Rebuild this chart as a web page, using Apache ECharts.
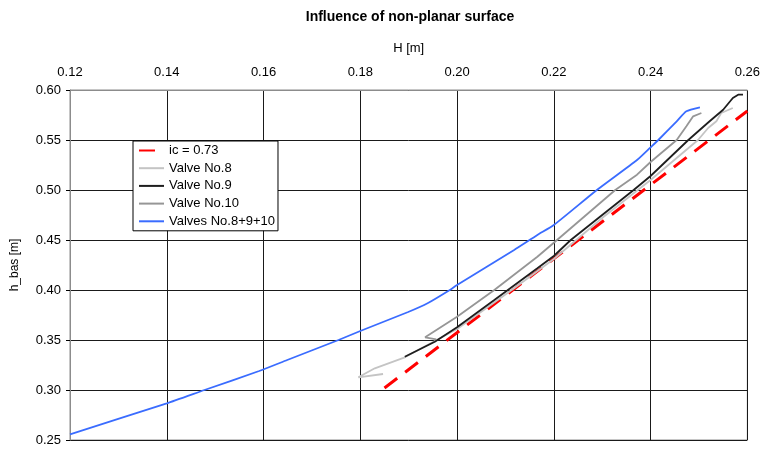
<!DOCTYPE html>
<html>
<head>
<meta charset="utf-8">
<script src="https://cdn.jsdelivr.net/npm/echarts@6/dist/echarts.min.js"></script>
<style>
  html, body { margin: 0; padding: 0; background: #fff; }
  #chart { width: 763px; height: 450px; }
</style>
</head>
<body>
<div id="chart"></div>
<script>
// Measured h_bas against H, in metres, as [H, h_bas] pairs
const seriesNames = ['ic = 0.73', 'Valve No.8', 'Valve No.9', 'Valve No.10', 'Valves No.8+9+10'];

const icLine = [[0.185, 0.302], [0.260, 0.579]];

const valve8 = [
  [0.1847, 0.3160], [0.1796, 0.3127], [0.1830, 0.3217], [0.1892, 0.3327],
  [0.2000, 0.3610], [0.2118, 0.4017], [0.2200, 0.4310], [0.2303, 0.4733],
  [0.2400, 0.5100], [0.2498, 0.5500], [0.2519, 0.5620], [0.2536, 0.5687],
  [0.2546, 0.5770], [0.2570, 0.5820]
];

const valve9 = [
  [0.1892, 0.3333], [0.1954, 0.3483], [0.2000, 0.3627], [0.2077, 0.3900],
  [0.2166, 0.4217], [0.2200, 0.4340], [0.2235, 0.4500], [0.2365, 0.5000],
  [0.2400, 0.5140], [0.2478, 0.5500], [0.2522, 0.5687], [0.2550, 0.5803],
  [0.2570, 0.5920], [0.2581, 0.5953], [0.2591, 0.5953]
];

const valve10 = [
  [0.1957, 0.3507], [0.1934, 0.3527], [0.2000, 0.3733], [0.2077, 0.4000],
  [0.2166, 0.4333], [0.2200, 0.4473], [0.2327, 0.5000], [0.2372, 0.5153],
  [0.2400, 0.5280], [0.2454, 0.5500], [0.2474, 0.5637], [0.2488, 0.5737],
  [0.2505, 0.5770]
];

const valvesAll = [
  [0.1200, 0.2557], [0.1400, 0.2867], [0.1478, 0.3000], [0.1591, 0.3190],
  [0.1649, 0.3300], [0.1755, 0.3500], [0.1800, 0.3590], [0.1899, 0.3780],
  [0.1940, 0.3870], [0.1985, 0.4000], [0.2000, 0.4050], [0.2118, 0.4400],
  [0.2166, 0.4550], [0.2200, 0.4650], [0.2289, 0.5000], [0.2372, 0.5300],
  [0.2400, 0.5427], [0.2416, 0.5500], [0.2454, 0.5687], [0.2474, 0.5787],
  [0.2502, 0.5827]
];

const seriesData = [icLine, valve8, valve9, valve10, valvesAll];
const seriesColors = ['#ff0000', '#c4c4c4', '#1e1e1e', '#969696', '#3a6cff'];
const seriesSmooth = [false, false, false, false, 0.2];

const FONT = 'Liberation Sans, Arial, sans-serif';

const chart = echarts.init(document.getElementById('chart'), null, { renderer: 'canvas' });

const series = seriesNames.map((name, i) => ({
  name: name,
  type: 'line',
  data: seriesData[i],
  showSymbol: false,
  symbol: 'none',
  smooth: seriesSmooth[i],
  animation: false,
  color: seriesColors[i],
  itemStyle: { color: seriesColors[i] },
  lineStyle: {
    color: seriesColors[i],
    width: i === 0 ? 3 : 1.8,
    type: i === 0 ? [16, 10] : 'solid'
  },
  z: 2 + i
}));

chart.setOption({
  backgroundColor: '#ffffff',
  animation: false,
  title: {
    text: 'Influence of non-planar surface',
    left: 405,
    textAlign: 'center',
    top: 5,
    textStyle: { fontFamily: FONT, fontSize: 14, fontWeight: 'bold', color: '#000' }
  },
  legend: {
    orient: 'vertical',
    left: 133,
    top: 141,
    data: seriesNames,
    backgroundColor: '#ffffff',
    borderColor: '#000000',
    borderWidth: 1,
    borderRadius: 0,
    padding: [3, 3, 3, 5],
    itemWidth: 25,
    itemHeight: 12,
    itemGap: 4.7,
    itemStyle: { opacity: 0 },
    textStyle: { fontFamily: FONT, fontSize: 13, color: '#000', lineHeight: 13 }
  },
  grid: {
    left: 70,
    right: 12,
    top: 90,
    bottom: 10,
    show: true,
    borderColor: '#8c8c8c',
    borderWidth: 1,
    backgroundColor: '#ffffff'
  },
  xAxis: {
    type: 'value',
    position: 'top',
    min: 0.12,
    max: 0.26,
    interval: 0.02,
    name: 'H [m]',
    nameLocation: 'middle',
    nameGap: 35,
    nameTextStyle: { fontFamily: FONT, fontSize: 13, color: '#000' },
    axisLine: { show: true, lineStyle: { color: '#8c8c8c', width: 1 } },
    axisTick: { show: false },
    axisLabel: {
      fontFamily: FONT, fontSize: 13, color: '#000', margin: 11,
      formatter: v => v.toFixed(2)
    },
    splitLine: { show: true, lineStyle: { color: '#1a1a1a', width: 1 } }
  },
  yAxis: {
    type: 'value',
    min: 0.25,
    max: 0.60,
    interval: 0.05,
    name: 'h_bas [m]',
    nameLocation: 'middle',
    nameGap: 49,
    nameRotate: 90,
    nameTextStyle: { fontFamily: FONT, fontSize: 12, color: '#000' },
    axisLine: { show: true, lineStyle: { color: '#8c8c8c', width: 1 } },
    axisTick: { show: true, inside: false, length: 4, lineStyle: { color: '#000' } },
    axisLabel: {
      fontFamily: FONT, fontSize: 13, color: '#000', margin: 9,
      formatter: v => v.toFixed(2)
    },
    splitLine: { show: true, lineStyle: { color: '#1a1a1a', width: 1 } }
  },
  series: series
});
</script>
</body>
</html>
